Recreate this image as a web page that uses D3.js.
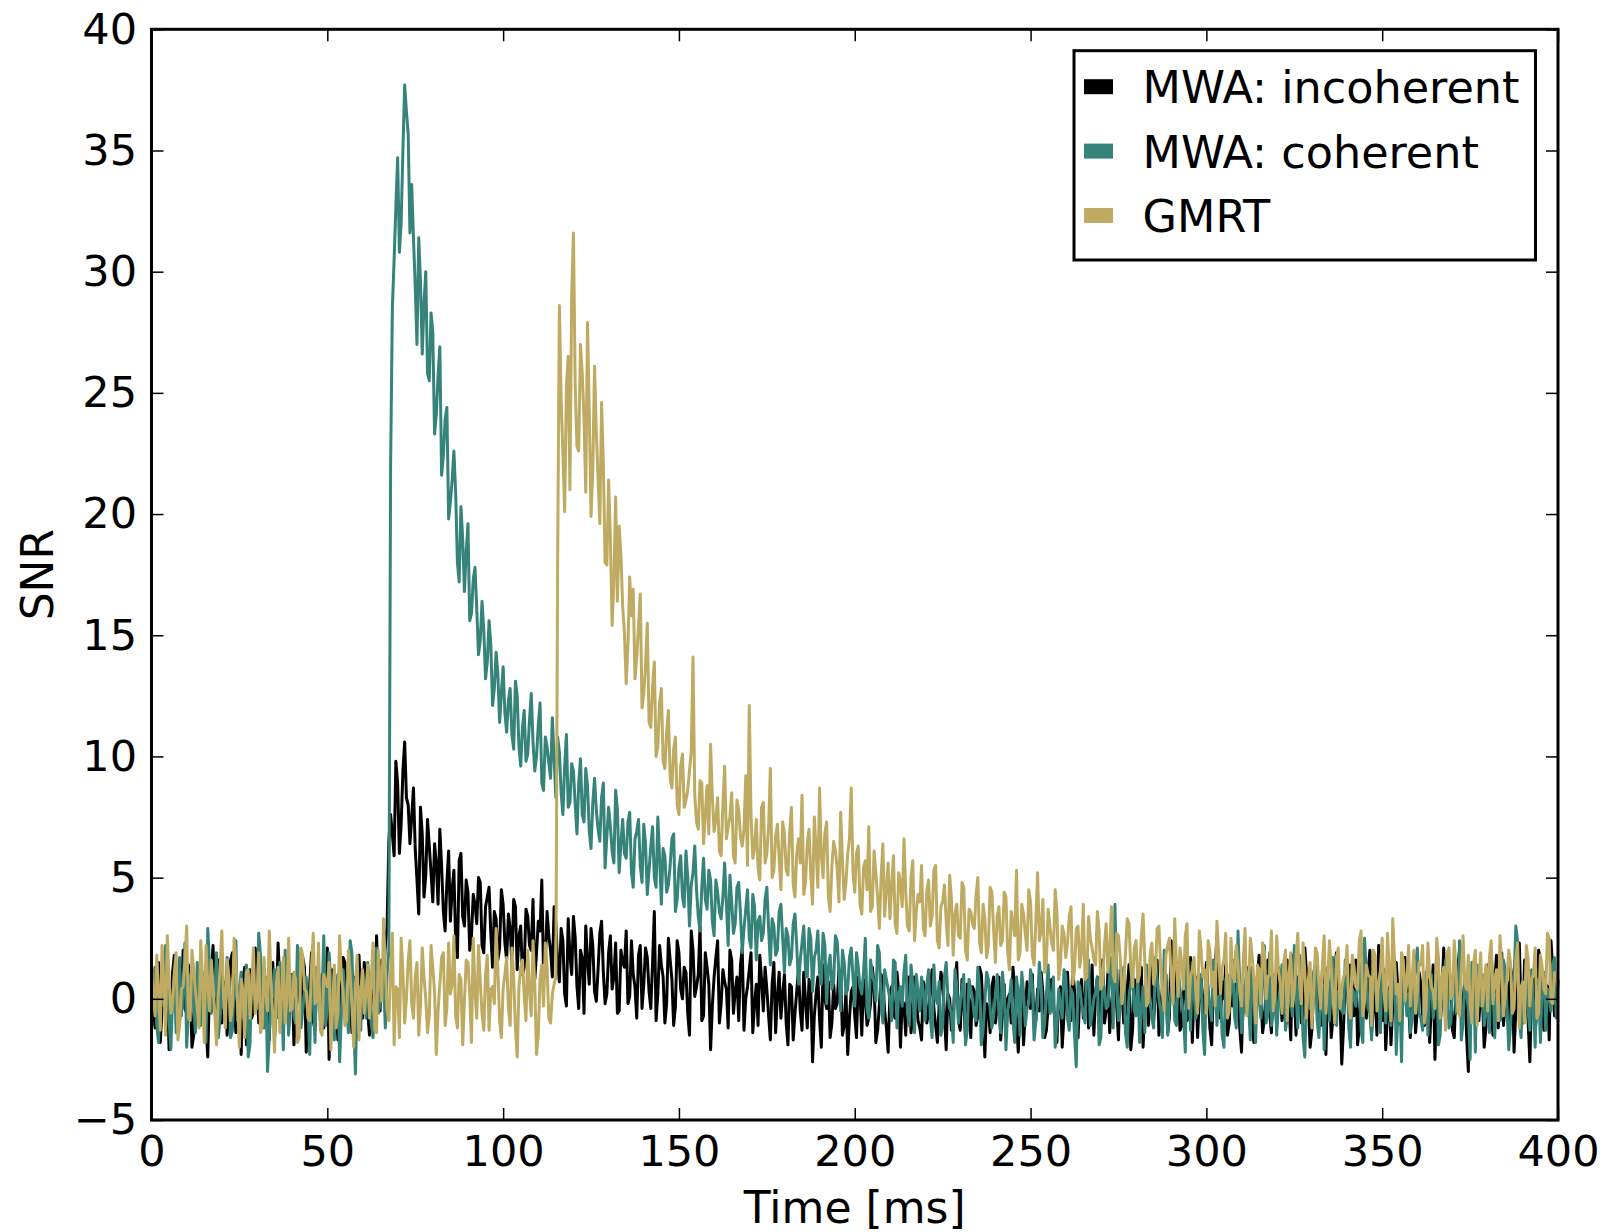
<!DOCTYPE html>
<html>
<head>
<meta charset="utf-8">
<script src="https://cdn.jsdelivr.net/npm/d3@7"></script>
<style>
  body { margin: 0; background: #fff; }
  text { font-family: "DejaVu Sans", sans-serif; fill: #000; }
</style>
</head>
<body>
<div id="chart"></div>
<script>
// SNR: *Ms arrays hold t = 0,1,...,400 ms,
// *HalfMs arrays hold t = 0.5,1.5,...,399.5 ms
const incoherentMs = [
  0.8,-1.2,1.5,-0.4,0.3,-2.1,1.1,0.2,-0.9,2.0,-0.6,0.7,-1.5,0.4,1.3,-0.8,-2.4,0.9,-0.2,1.6,
  -1.0,0.5,-0.3,1.9,-1.4,0.1,0.8,-1.9,1.2,-0.5,0.6,1.4,-1.1,-0.2,0.9,-1.6,2.3,-0.7,0.3,-1.3,
  1.0,-0.4,0.2,1.7,-2.2,0.6,-0.9,1.1,0.0,-1.2,2.1,-0.3,0.7,-1.7,0.5,1.5,-0.6,-1.4,0.4,1.8,
  -0.8,0.3,-1.5,1.2,2.6,-0.5,0.9,3.0,7.6,5.9,8.9,7.2,10.6,8.0,7.5,6.2,3.5,6.8,5.1,6.3,
  4.0,5.6,7.0,3.6,4.8,3.2,5.3,1.7,6.0,3.0,4.4,2.6,3.9,5.0,2.2,3.8,4.6,1.3,3.3,2.1,
  3.9,1.6,2.9,4.1,1.2,3.0,1.3,3.4,2.0,0.8,3.2,4.9,1.5,2.6,0.9,3.1,0.7,2.4,-0.3,1.8,
  3.4,0.5,2.0,-0.6,1.6,2.9,0.3,1.2,3.2,-0.2,1.9,0.4,2.3,-0.5,1.5,2.8,0.1,1.0,-0.8,2.2,
  0.6,1.7,-0.4,3.6,0.2,1.4,-1.0,2.5,0.8,-0.3,1.9,0.0,1.1,-1.5,2.0,0.5,3.0,-0.7,1.3,-2.1,
  0.9,2.4,-0.2,0.7,-1.2,1.6,0.3,-0.9,2.1,0.0,1.2,-1.4,0.6,1.8,-0.5,0.4,-1.7,1.5,0.1,-0.8,
  1.0,-1.9,0.5,-0.6,1.2,-1.3,-0.1,0.8,-2.6,0.2,-0.9,1.4,-0.4,-1.6,0.6,-0.2,1.0,-1.1,-2.3,0.3,
  -0.7,0.9,-1.5,0.0,-0.8,1.3,-1.8,-0.3,0.7,-1.2,0.2,-0.6,1.1,-2.0,-0.2,0.5,-1.4,0.9,-0.9,-1.7,
  0.4,-0.5,1.2,-1.1,-0.3,0.8,-2.1,0.0,-0.8,1.5,-1.3,-0.2,0.6,-1.6,0.3,-0.7,1.0,-2.4,-0.4,0.5,
  -1.0,0.9,-0.6,-1.5,0.2,1.3,-0.9,-0.1,-1.9,0.7,-0.4,-1.2,0.4,1.1,-1.6,-0.3,0.8,-1.0,0.1,-2.0,
  0.6,-0.5,1.3,-1.2,0.2,-0.8,1.7,-0.2,-1.5,0.9,0.0,-1.0,1.1,-0.4,2.0,-1.7,0.3,-0.6,1.4,-1.3,
  0.6,-0.1,-2.0,1.0,0.2,-0.9,1.6,-0.5,0.7,-1.4,2.4,-0.3,0.5,-1.1,1.2,-0.7,-1.8,0.9,0.1,-0.6,
  1.5,-1.2,0.4,2.6,-0.8,0.0,-1.5,1.1,-0.3,0.8,-2.2,0.6,1.3,-0.9,-0.1,1.8,-1.4,0.3,-0.6,1.0,
  -1.1,0.5,-0.4,1.6,-1.7,0.2,0.9,-1.0,2.1,-0.2,-1.3,0.7,-0.5,1.2,-2.3,0.4,-0.8,1.9,0.0,-1.2,
  0.6,1.4,-0.7,-1.9,0.8,-0.1,1.1,-1.4,0.3,2.2,-0.9,-2.1,0.5,-0.3,1.5,-1.0,0.2,0.9,-1.6,1.3,
  -0.4,0.6,-1.1,1.7,-0.2,-2.5,0.8,0.1,-0.9,1.2,-1.3,0.4,2.0,-0.6,-1.5,0.7,1.0,-0.8,0.3,-2.0,
  1.4,-0.3,0.6,-1.2,1.9,0.0,-1.7,0.9,-0.5,2.3,-1.0,0.2,-2.6,1.1,-0.4,1.5,-1.3,0.5,2.4,-0.7,0.8
];
const incoherentHalfMs = [
  -0.3,0.9,-1.8,1.2,0.6,-0.7,1.8,-1.3,0.1,-0.4,1.4,-2.0,0.8,-0.2,1.0,-1.1,0.5,2.2,-0.9,0.3,
  0.7,-1.5,1.6,-0.1,0.4,-2.3,1.3,0.0,-0.8,2.1,-1.0,0.2,0.9,-1.7,1.5,-0.3,0.6,-1.2,1.1,0.4,
  -1.9,0.8,-0.5,1.3,-0.2,1.9,-1.3,0.3,1.0,-0.7,-2.5,1.2,0.1,-0.4,1.7,-1.0,0.5,0.9,-1.6,0.2,
  1.5,-0.6,0.7,-1.1,0.4,1.6,2.2,6.5,6.8,9.8,6.0,9.4,8.3,6.4,8.7,4.9,7.9,4.2,7.4,5.2,
  6.4,3.9,5.5,2.8,6.1,4.5,2.4,5.7,3.4,4.9,2.0,4.3,3.1,4.8,1.9,4.2,2.7,3.6,1.6,4.5,
  2.3,3.5,1.4,3.8,2.6,1.0,3.7,2.2,4.1,1.9,2.8,1.1,3.6,2.0,3.8,1.4,2.9,0.2,3.3,1.0,
  2.5,-0.4,1.7,3.0,0.6,2.2,-0.1,2.7,1.1,0.2,2.6,0.9,-0.6,2.0,1.3,-0.2,2.4,0.5,1.8,-0.4,
  2.1,0.3,1.5,-0.9,2.2,0.9,-0.2,1.6,-1.1,2.4,0.4,1.3,-0.6,2.8,0.1,1.0,-0.9,1.9,0.6,-0.3,
  1.7,-1.0,1.2,0.4,2.0,-0.6,0.9,1.4,-1.3,0.5,1.9,-0.2,-1.1,0.8,1.3,-0.7,0.6,-1.4,1.1,0.2,
  -1.0,0.6,-1.7,0.3,-0.5,1.1,-1.2,0.4,-0.7,0.9,-2.0,0.0,0.7,-1.0,-0.4,1.2,-1.5,0.3,-0.8,0.5,
  -1.6,0.2,0.8,-1.1,-0.2,0.6,-1.3,1.0,-0.5,-2.2,0.5,-0.8,0.3,-0.1,-1.5,0.9,-0.6,0.1,-1.2,0.7,
  -1.0,0.3,-0.4,-1.8,1.1,-0.6,0.2,-1.3,0.6,-0.9,0.8,-1.6,-0.1,0.5,-1.1,1.3,-0.5,-0.2,-1.4,0.9,
  -0.3,-1.7,0.6,0.0,-1.0,0.4,-2.2,0.8,-0.6,0.1,1.0,-0.9,-0.5,0.3,-1.3,0.7,-0.2,-1.8,0.5,-0.7,
  1.1,-0.9,0.3,-1.6,0.8,-0.1,-1.2,1.4,0.2,-0.8,1.6,-0.5,-1.4,0.6,-0.3,1.2,-1.0,0.4,-2.1,0.8,
  -0.6,1.3,-0.2,-1.1,1.8,0.3,-1.5,0.5,1.0,-0.7,-0.1,1.5,-1.3,0.2,-0.9,1.7,0.4,-1.6,0.9,-0.2,
  0.3,-1.9,1.2,-0.5,0.7,1.4,-1.0,-0.3,2.0,-1.2,0.5,-0.6,1.1,-1.8,0.9,0.1,-0.8,1.6,-1.4,0.2,
  1.3,-0.9,0.4,-0.2,1.8,-1.5,0.6,-0.7,1.0,-2.0,0.3,1.5,-1.1,0.0,0.8,-1.6,1.2,-0.4,-2.7,1.1,
  -0.5,0.2,1.6,-1.2,0.5,-0.8,2.0,-0.3,-1.5,0.7,1.2,-0.6,-1.9,1.0,0.3,-1.1,1.7,-0.2,0.6,-1.4,
  1.1,-0.7,0.3,-1.8,1.4,0.0,-1.0,2.1,-0.5,0.6,-1.6,1.3,-0.2,0.8,-3.0,0.4,1.5,-0.9,0.2,-1.2,
  0.9,-1.5,1.8,-0.1,-1.1,0.7,1.3,-2.2,0.4,-0.6,1.6,-0.9,0.3,-1.4,2.0,-0.3,0.6,-1.7,1.2,-0.4
];

const coherentMs = [
  -0.5,1.3,-1.8,0.6,2.2,-0.9,0.1,-1.4,1.7,0.4,-2.0,0.9,-0.3,1.5,-1.1,0.7,2.9,-0.6,0.2,-1.6,
  1.1,-0.2,0.8,-1.3,2.4,0.3,-0.8,1.4,-1.9,0.5,-0.4,1.8,-1.2,-3.0,0.6,1.2,-0.7,0.0,2.0,-1.5,
  0.4,-1.0,1.6,-0.5,0.9,-2.3,0.2,1.3,-0.9,2.6,-0.3,0.7,-1.7,1.0,-0.6,0.3,-1.4,1.9,-3.1,0.5,
  1.2,-0.8,0.4,-1.6,2.1,-0.2,0.8,1.0,22.0,30.5,34.7,32.0,37.7,35.7,33.6,29.4,31.4,26.6,30.0,25.5,
  27.5,24.1,26.9,22.4,24.4,20.5,22.6,18.0,20.3,16.8,19.6,15.9,17.8,14.2,16.4,13.2,15.6,12.1,14.3,11.4,
  13.7,11.0,12.8,10.3,12.5,9.6,11.9,10.1,12.6,9.4,11.3,8.9,10.8,9.7,11.6,8.3,10.2,7.6,10.9,8.1,
  9.4,6.8,9.9,7.3,8.8,6.2,9.1,7.0,8.3,5.4,7.9,6.1,8.6,5.2,7.4,5.8,7.7,4.6,6.9,5.5,
  7.2,4.3,6.3,5.0,7.5,3.9,5.9,4.7,6.6,3.6,5.4,4.2,6.1,3.0,5.2,4.5,2.8,5.8,3.7,4.9,
  2.6,4.4,3.3,5.6,2.2,4.0,3.1,4.8,1.9,3.7,2.5,4.3,1.6,3.4,2.7,4.6,1.4,3.0,2.0,3.9,
  1.1,2.6,1.7,3.5,0.6,2.3,1.2,2.9,0.3,2.0,1.0,2.7,-0.2,1.8,0.7,2.4,-0.5,1.5,0.4,2.1,
  -0.3,1.3,0.2,2.5,-0.8,1.0,-0.1,1.9,-1.0,0.8,0.0,1.6,-1.2,0.5,1.1,-0.6,1.4,-1.4,0.3,0.9,
  -0.9,1.2,-1.6,0.1,0.7,-1.1,1.5,-0.4,-1.8,0.6,-0.2,1.0,-1.3,0.4,-0.7,1.3,-1.9,-0.1,0.8,-1.2,
  0.2,-0.6,1.1,-2.1,0.0,-0.9,0.9,-1.5,0.3,-0.4,1.2,-1.7,-0.2,0.6,-1.0,1.4,-0.5,-2.0,0.4,-0.8,
  1.0,-1.3,0.2,-2.8,0.5,-0.6,1.3,-1.1,0.0,0.9,-1.6,0.4,-0.3,1.7,3.9,-0.9,0.6,-1.4,0.1,1.1,
  -0.7,-1.8,0.5,1.4,-0.2,-1.2,0.8,-0.5,2.0,-1.5,0.3,-0.9,1.2,-0.1,-2.2,0.7,1.5,-0.8,0.2,-1.3,
  0.9,-0.4,1.6,-1.1,0.1,-2.0,1.0,0.4,-0.7,2.8,-1.4,0.6,-0.2,1.3,-1.8,0.0,0.8,-1.0,1.9,-0.5,
  -1.5,0.5,1.1,-0.8,-0.1,2.2,-1.2,0.3,-2.4,0.9,-0.3,1.4,-1.6,0.6,0.1,-0.9,1.7,-1.1,0.4,-0.6,
  1.2,-2.0,0.2,0.8,-1.3,2.5,-0.4,-1.7,0.7,0.0,1.5,-1.0,-0.2,0.9,-2.3,0.5,1.3,-0.7,-1.4,0.6,
  2.1,-0.8,0.3,-1.5,1.0,-0.1,-1.9,0.8,1.6,-1.2,0.4,-0.6,2.4,-1.0,0.2,-2.5,0.9,1.4,-0.3,-1.1,
  0.5,1.8,-1.6,0.0,-0.7,1.2,-2.1,0.6,3.0,-0.9,0.3,1.5,-1.3,-0.2,0.8,-1.8,1.1,0.4,-0.5,1.7,0.7
];
const coherentHalfMs = [
  0.9,-1.1,0.4,-0.3,1.6,-2.1,1.0,0.2,-0.7,2.3,-0.5,1.2,-1.4,0.3,0.8,-1.8,1.4,-0.1,1.9,-0.8,
  -0.4,1.7,-1.6,0.5,-0.9,1.1,0.2,-2.4,1.0,-0.2,2.7,-0.6,0.9,-1.5,0.1,-0.8,1.5,-2.1,0.4,1.0,
  -0.7,2.2,-1.2,0.3,-0.4,1.4,-1.8,0.8,0.0,-1.1,1.9,-0.5,0.6,-2.6,1.2,-0.3,2.4,-0.9,0.5,-1.3,
  0.7,1.5,-1.0,0.2,-0.6,1.3,-1.2,2.0,28.5,32.7,30.8,35.0,36.6,31.6,31.4,27.0,29.6,28.7,25.8,28.3,
  23.3,25.7,21.6,23.9,19.8,21.4,20.9,17.2,19.0,18.4,15.6,17.3,16.1,14.8,15.2,13.9,14.6,12.8,13.4,12.6,
  11.8,12.3,10.9,13.1,10.4,11.2,9.8,11.5,10.6,10.0,12.2,8.6,10.4,9.1,9.9,10.8,8.5,9.6,7.9,9.7,
  8.0,8.9,7.6,9.5,6.9,8.1,7.8,6.5,8.9,6.7,7.1,5.6,7.8,6.4,6.0,7.3,5.2,6.6,7.4,4.8,
  6.4,5.3,7.1,4.6,5.8,6.2,4.4,5.5,6.8,4.1,5.9,3.8,5.0,4.7,6.3,3.4,4.6,4.1,5.3,3.2,
  4.9,3.6,4.2,3.9,5.1,2.7,4.6,3.5,2.9,4.5,2.1,3.8,3.2,2.4,4.1,2.9,3.3,1.8,3.6,2.5,
  2.9,1.4,3.1,2.2,1.6,3.0,0.9,2.5,1.7,2.8,0.6,2.2,1.3,0.4,2.6,1.1,2.0,0.2,1.7,0.9,
  1.9,0.5,1.1,-0.4,1.6,0.7,2.2,-0.2,1.2,0.4,-0.9,1.5,0.2,-0.3,1.8,-1.1,0.6,1.0,-0.5,0.3,
  0.6,-0.8,1.4,-0.2,-1.5,0.9,0.1,-0.6,1.2,-1.0,0.4,-1.9,0.8,0.0,-0.9,0.5,-1.3,1.1,-0.4,-0.7,
  1.0,-1.4,0.3,-0.5,0.8,-1.8,0.2,1.1,-1.1,-0.2,0.6,-0.9,1.5,-1.6,0.1,-0.6,0.9,-1.2,-0.3,1.2,
  -0.8,0.4,-1.5,0.7,-0.2,-1.0,1.6,-0.6,0.3,-1.9,0.8,-0.4,1.0,-1.2,0.5,-0.1,1.3,-2.0,0.6,-0.5,
  1.1,-0.3,-1.4,0.7,-0.8,1.7,0.0,-1.6,0.5,-0.2,1.3,-1.1,0.4,-0.7,1.9,-1.3,0.2,-0.4,1.0,-2.3,
  0.4,-0.9,1.2,0.1,-1.5,0.8,-0.3,1.6,-1.2,0.5,-0.6,1.1,-1.7,0.3,0.9,-0.8,2.2,-0.5,-1.1,0.6,
  -0.2,1.4,-1.3,0.7,-0.7,0.2,1.8,-1.6,0.5,-0.4,1.1,-0.9,0.0,-2.1,1.3,0.6,-1.0,0.3,-0.5,1.6,
  -1.2,0.4,-0.3,1.5,-1.8,0.8,-0.6,1.2,-0.1,-1.4,0.9,0.3,-1.1,1.7,-0.5,-2.6,0.7,0.2,-0.9,1.4,
  -0.6,-1.3,1.1,0.4,-0.8,1.9,-1.5,0.0,0.6,-1.0,1.3,-0.3,-1.7,0.9,-0.4,1.5,-2.2,0.3,1.0,-0.6,
  -1.4,0.8,0.2,-0.9,1.6,-0.3,-1.1,0.7,2.4,-1.6,0.5,-0.5,1.2,-2.0,0.4,0.9,-1.3,0.2,1.4,-0.8
];

const gmrtMs = [
  1.4,-0.7,0.3,2.2,-1.5,0.8,-0.2,1.9,-1.1,0.5,3.0,-0.9,1.2,-0.4,2.4,-1.8,0.6,1.6,-0.6,0.1,
  2.8,-1.2,0.9,-0.3,1.5,-2.0,0.4,1.1,-0.8,2.1,0.0,-1.4,1.7,-0.5,0.7,-2.2,1.3,0.2,-1.0,2.5,
  -0.4,0.8,-1.6,1.8,0.3,-0.9,2.7,-0.1,-1.3,1.0,0.5,-2.1,1.4,-0.6,0.9,-1.1,2.0,-0.3,0.6,-1.7,
  1.2,0.2,-0.8,2.3,-1.4,0.7,3.3,-0.5,1.1,-1.9,0.4,2.5,-1.0,1.6,-0.2,0.9,-1.5,2.1,0.0,-0.7,
  1.3,-2.3,0.6,1.9,-0.4,0.2,2.6,-1.2,0.8,-0.1,1.5,-1.8,0.3,2.2,-0.6,1.0,-1.3,0.5,2.9,-0.9,
  0.4,1.7,-1.1,0.9,-2.4,1.3,0.1,2.0,-0.7,0.6,-1.5,1.4,2.3,-0.8,0.2,0.9,28.6,22.5,25.2,21.0,
  31.6,22.8,27.0,24.0,27.9,19.9,26.1,21.5,24.6,18.0,21.4,15.4,20.7,19.5,16.2,13.0,17.4,16.9,14.1,16.7,
  12.6,15.5,11.2,13.9,10.4,12.8,9.5,11.9,8.7,10.8,7.6,10.1,8.2,9.4,14.1,7.3,9.0,6.4,8.8,10.5,
  6.9,8.3,5.9,9.6,7.1,8.5,5.6,7.8,6.3,9.2,12.1,5.8,7.4,4.9,8.1,6.0,9.5,5.3,7.2,4.5,
  6.8,5.1,7.9,4.2,6.6,8.4,4.8,7.0,3.9,6.2,8.7,5.0,7.3,3.6,6.5,5.4,7.7,4.1,6.0,8.7,
  4.4,6.3,3.5,5.7,7.1,3.8,5.2,2.9,6.4,4.6,3.3,5.9,2.7,4.8,6.6,3.0,5.0,2.4,4.3,5.5,
  2.6,4.9,3.4,5.5,2.1,4.0,3.2,5.1,1.8,3.9,2.5,4.6,1.6,3.6,2.9,5.0,1.9,3.3,2.2,4.4,
  1.5,3.8,2.4,4.2,1.2,3.1,5.3,1.9,3.5,2.0,4.0,1.4,5.2,2.8,1.1,3.7,2.3,4.5,0.8,3.0,
  1.7,3.4,0.6,2.9,1.3,3.9,0.9,2.5,1.6,3.6,0.4,2.2,1.1,3.8,0.7,2.6,-0.2,1.9,3.1,0.5,
  2.4,1.0,3.5,-0.3,1.8,0.6,2.9,1.3,-0.5,2.2,0.8,3.3,0.1,1.5,2.6,-0.4,1.2,0.3,2.8,0.9,
  -0.6,2.0,1.1,3.2,0.2,1.6,-0.8,2.5,0.7,1.4,-0.3,2.9,0.4,1.8,-1.0,1.2,2.3,0.0,1.0,-0.5,
  2.6,0.6,1.5,-0.9,1.9,0.3,2.7,-0.2,1.1,0.8,-1.2,2.1,0.5,1.4,-0.6,2.4,0.1,1.7,-0.4,0.9,
  2.2,-0.8,1.3,0.4,2.8,-0.1,1.0,-1.1,1.8,0.6,2.5,-0.5,1.2,3.3,0.2,-0.9,1.6,0.7,-0.3,2.0,
  0.3,1.4,-1.0,2.3,0.5,-0.4,1.7,0.9,-1.3,2.1,0.2,1.1,-0.7,2.6,0.4,-0.2,1.5,-1.1,1.9,0.6,
  -0.5,2.4,0.8,-0.9,1.3,0.1,2.0,-0.6,1.6,-1.2,0.7,2.2,-0.3,1.0,-0.8,1.8,0.4,2.7,-0.1,1.1,0.5
];
const gmrtHalfMs = [
  0.2,1.8,-1.3,0.7,2.6,-0.6,1.1,-1.7,0.4,1.5,-0.8,2.0,0.3,-1.2,0.9,2.2,-0.5,0.6,-1.9,1.3,
  0.1,1.6,-0.9,2.5,-0.3,0.8,-1.6,1.2,0.5,-0.6,1.9,-1.1,0.2,2.8,-0.7,0.6,-1.4,1.7,0.0,-0.5,
  1.1,-1.8,2.1,0.4,-0.8,1.3,-0.2,2.3,-1.5,0.7,1.5,-0.4,-1.2,2.6,0.3,-0.9,1.0,-2.0,1.8,0.2,
  -0.6,1.4,0.8,-1.3,2.0,-0.1,1.2,-0.9,2.7,0.5,-1.6,1.1,0.0,2.4,-0.8,1.5,-0.3,0.9,-1.4,2.2,
  0.3,-0.5,1.7,-1.1,2.3,0.6,-0.7,1.0,-1.9,1.6,0.2,2.5,-0.8,0.7,-1.3,1.8,0.4,-0.2,1.2,-1.6,
  1.0,-0.4,2.1,-1.2,0.5,1.6,-0.9,0.3,2.4,-2.3,0.8,-0.3,1.3,-1.0,0.6,18.0,24.7,20.1,26.5,29.0,
  25.3,22.6,25.8,20.9,24.2,21.8,23.4,19.6,22.1,17.9,19.0,17.2,16.4,18.3,15.1,14.6,15.8,13.2,15.4,12.0,
  13.8,11.4,12.9,10.0,12.2,9.8,11.0,9.1,10.3,8.0,9.6,7.9,8.6,10.2,8.4,7.0,8.9,7.6,6.8,8.3,
  7.4,6.1,8.0,6.6,7.5,5.9,8.2,6.7,7.0,5.5,7.6,6.2,5.4,7.9,5.6,7.1,5.0,6.7,5.8,7.3,
  5.3,6.9,4.7,6.0,5.6,4.3,6.4,5.1,7.5,4.6,5.9,6.8,4.2,5.5,6.1,4.0,5.7,4.8,6.6,5.2,
  6.0,3.9,5.4,4.5,3.6,6.1,4.2,5.0,3.4,5.6,4.7,3.1,5.2,3.8,4.4,2.8,5.7,3.6,4.0,2.9,
  4.5,3.0,5.3,2.4,3.8,4.7,2.2,4.1,3.5,2.6,4.8,2.0,3.7,3.1,4.3,2.3,3.9,1.7,4.6,2.8,
  3.4,2.2,4.4,1.9,3.6,2.6,1.6,3.9,2.7,4.5,1.8,3.2,2.4,4.1,1.5,3.0,2.0,3.6,1.4,2.7,
  2.3,3.8,1.2,3.0,1.9,0.8,3.4,2.1,1.4,2.8,0.6,3.1,2.0,1.0,2.7,1.7,0.5,3.3,1.3,2.1,
  0.7,2.6,1.5,-0.1,2.3,1.1,3.0,0.2,1.8,2.5,-0.2,1.4,2.1,0.4,3.1,0.9,1.7,-0.6,2.0,1.2,
  2.4,0.5,-0.3,1.9,1.3,2.7,-0.5,1.0,2.2,0.3,1.6,-0.7,2.5,0.8,1.4,-0.2,1.9,0.9,2.8,0.1,
  1.2,-0.6,2.0,1.0,-0.3,1.7,0.6,2.3,-0.8,1.5,0.2,1.9,-0.4,2.6,0.7,1.3,-1.0,2.1,0.4,1.1,
  -0.2,1.8,0.5,2.4,-0.7,1.4,0.9,2.0,-0.5,1.2,0.3,2.7,-0.9,1.6,0.6,1.9,-0.1,2.2,0.8,-0.6,
  1.5,2.2,-0.4,1.0,0.3,2.5,-0.8,1.3,1.9,0.0,2.4,-0.5,1.1,0.6,1.8,-1.0,2.0,0.7,-0.3,1.4,
  1.7,-0.2,1.2,2.6,-0.7,0.9,1.5,-0.4,2.3,0.5,-1.0,1.6,0.8,2.1,-0.6,1.3,0.2,2.5,-0.2,1.0
];

const xTicks = [0, 50, 100, 150, 200, 250, 300, 350, 400];
const yTicks = [-5, 0, 5, 10, 15, 20, 25, 30, 35, 40];
const seriesNames = ['MWA: incoherent', 'MWA: coherent', 'GMRT'];
const seriesColors = ['#000000', '#358379', '#beaa60'];

// put the whole-ms and half-ms samples back in time order
function mergeSamples(onMs, halfMs) {
  const pts = [];
  onMs.forEach((v, i) => {
    pts.push([i, v]);
    if (i < halfMs.length) pts.push([i + 0.5, halfMs[i]]);
  });
  return pts;
}

const series = [
  mergeSamples(incoherentMs, incoherentHalfMs),
  mergeSamples(coherentMs, coherentHalfMs),
  mergeSamples(gmrtMs, gmrtHalfMs)
];

const W = 1604, H = 1232;
const margin = {top: 29.3, right: 46, bottom: 112, left: 151.5};
const width = W - margin.left - margin.right,
      height = H - margin.top - margin.bottom;

const svg = d3.select('#chart')
  .append('svg')
  .attr('width', W)
  .attr('height', H);

const g = svg.append('g')
  .attr('transform', 'translate(' + margin.left + ',' + margin.top + ')');

const x = d3.scaleLinear().domain([0, 400]).range([0, width]);
const y = d3.scaleLinear().domain([-5, 40]).range([height, 0]);

const line = d3.line()
  .x((d) => x(d[0]))
  .y((d) => y(d[1]));

// plot order: incoherent, coherent, GMRT (GMRT on top)
series.forEach((pts, k) => {
  g.append('path')
    .datum(pts)
    .attr('fill', 'none')
    .attr('stroke', seriesColors[k])
    .attr('stroke-width', 3)
    .attr('stroke-linejoin', 'round')
    .attr('d', line);
});

const fmt = (d) => d < 0 ? '\u2212' + Math.abs(d) : String(d);

// ticks point inward on all four sides
const axB = g.append('g')
  .attr('transform', 'translate(0,' + height + ')')
  .call(d3.axisBottom(x).tickValues(xTicks).tickFormat(fmt).tickSize(-12).tickPadding(15.5));
const axL = g.append('g')
  .call(d3.axisLeft(y).tickValues(yTicks).tickFormat(fmt).tickSize(-12).tickPadding(14.5));
const axT = g.append('g')
  .call(d3.axisTop(x).tickValues(xTicks).tickFormat('').tickSize(-12));
const axR = g.append('g')
  .attr('transform', 'translate(' + width + ',0)')
  .call(d3.axisRight(y).tickValues(yTicks).tickFormat('').tickSize(-12));

[axB, axL, axT, axR].forEach((a) => {
  a.select('.domain').remove();
  a.selectAll('.tick line').attr('stroke', '#000').attr('stroke-width', 1.5);
  a.selectAll('.tick text')
    .style('font-family', '"DejaVu Sans", sans-serif')
    .style('font-size', '43px')
    .attr('fill', '#000');
});

g.append('rect')
  .attr('width', width)
  .attr('height', height)
  .attr('fill', 'none')
  .attr('stroke', '#000')
  .attr('stroke-width', 3);

svg.append('text')
  .attr('x', margin.left + width / 2)
  .attr('y', 1223)
  .attr('text-anchor', 'middle')
  .style('font-size', '44px')
  .text('Time [ms]');

svg.append('text')
  .attr('transform', 'translate(53,' + (margin.top + height / 2) + ') rotate(-90)')
  .attr('text-anchor', 'middle')
  .style('font-size', '44px')
  .text('SNR');

// legend
const legend = svg.append('g').attr('transform', 'translate(1074,50.7)');
legend.append('rect')
  .attr('width', 461.5)
  .attr('height', 209.3)
  .attr('fill', '#fff')
  .attr('stroke', '#000')
  .attr('stroke-width', 3);

seriesNames.forEach((name, i) => {
  const row = legend.append('g').attr('transform', 'translate(0,' + (i * 64.4) + ')');
  row.append('rect')
    .attr('x', 10)
    .attr('y', 28.5)
    .attr('width', 29)
    .attr('height', 15)
    .attr('fill', seriesColors[i]);
  row.append('text')
    .attr('x', 68.5)
    .attr('y', 52.6)
    .style('font-size', '44.5px')
    .text(name);
});
</script>
</body>
</html>
